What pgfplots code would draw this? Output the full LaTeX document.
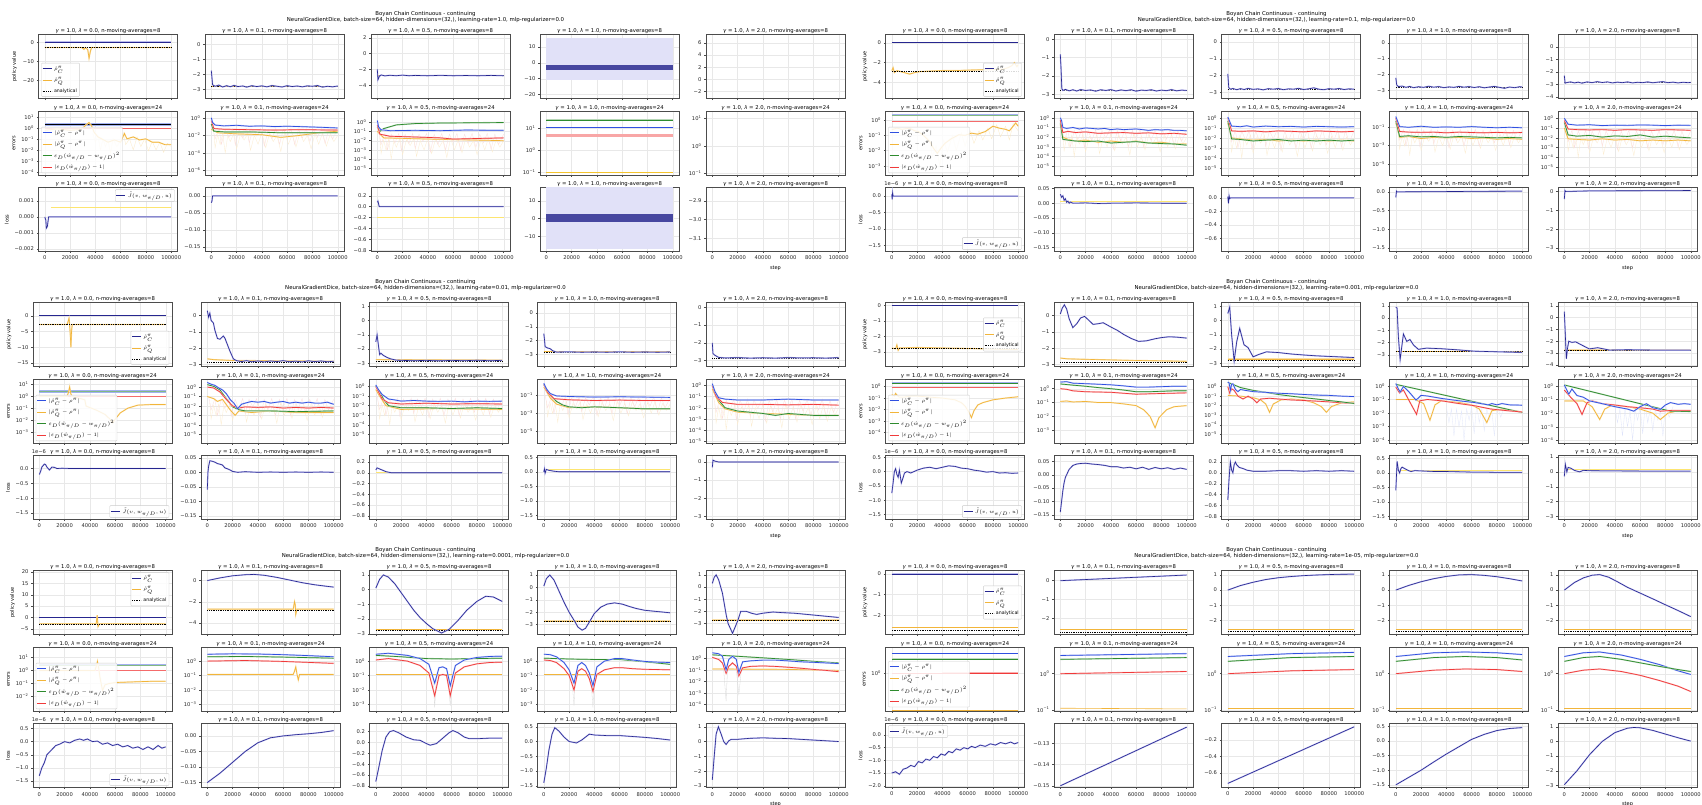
\documentclass[border=0pt]{standalone}
\usepackage{fontspec}
\setmainfont{DejaVu Sans}
\usepackage{pgfplots}
\pgfplotsset{compat=1.18}
\definecolor{cB}{HTML}{5A5AD8}
\definecolor{cN}{HTML}{26268F}
\definecolor{cO}{HTML}{F2B53A}
\definecolor{cE}{HTML}{3050E0}
\definecolor{cG}{HTML}{2E8B2E}
\definecolor{cR}{HTML}{F03A3A}
\newcommand\fs[1]{\fontsize{#1}{#1}\selectfont}
\newcommand\tp[1]{10\textsuperscript{#1}}
\expandafter\def\csname RT1\endcsname{34.5}
\expandafter\def\csname RT2\endcsname{111}
\expandafter\def\csname RT3\endcsname{187.5}
\expandafter\def\csname LM1\endcsname{0.0}
\expandafter\def\csname LM2\endcsname{0.1}
\expandafter\def\csname LM3\endcsname{0.5}
\expandafter\def\csname LM4\endcsname{1.0}
\expandafter\def\csname LM5\endcsname{2.0}
\pgfplotsset{
 pan/.style={scale only axis,width=139pt,height=64pt,anchor=north west,
  xmin=-5,xmax=105,xtick={0,20,40,60,80,100},
  axis line style={draw=black!70,line width=0.45pt},
  grid=major,major grid style={draw=black!9,line width=0.35pt},
  tick align=outside,major tick length=1.6pt,tick style={draw=black!70,line width=0.4pt},
  tick pos=left,scaled ticks=false,clip mode=individual,
  tick label style={font=\fs{5.2},text=black!85},
  xticklabel style={yshift=0.5pt},yticklabel style={xshift=0.5pt},
  every axis title shift=0pt,
  title style={font=\fs{5.3},at={(0.5,1)},anchor=south,yshift=0.2pt,inner sep=0.3pt},
  ylabel style={font=\fs{5},yshift=-1pt},xlabel style={font=\fs{5},yshift=1pt},
  legend style={font=\fs{4.7},draw=black!20,rounded corners=0.8pt,fill=white,fill opacity=0.85,text opacity=1,inner sep=0.8pt,row sep=1.6pt,cells={anchor=west}},
  legend image code/.code={\draw[##1] (0pt,0pt) -- (9pt,0pt);},
 },
 LL/.style={legend style={at={(0.02,0.03)},anchor=south west}},
 LR/.style={legend style={at={(0.98,0.03)},anchor=south east}},
 UR/.style={legend style={at={(0.98,0.97)},anchor=north east}},
 UL/.style={legend style={at={(0.02,0.97)},anchor=north west}},
 ER/.style={legend style={at={(0.98,#1)},anchor=east}},
 EL/.style={legend style={at={(0.02,#1)},anchor=west}},
}
\newcommand\pB[1]{\addplot[forget plot,cB!40,line width=1.4pt] coordinates {#1};\addplot[forget plot,cN,line width=0.6pt] coordinates {#1};}
\newcommand\pO[1]{\addplot[forget plot,cO!45,line width=1.3pt] coordinates {#1};\addplot[forget plot,cO,line width=0.6pt] coordinates {#1};}
\newcommand\pA[1]{\addplot[forget plot,black,densely dotted,line width=0.75pt] coordinates {(0,#1)(100,#1)};}
\newcommand\eL[2]{\addplot[forget plot,#1!30,line width=1.4pt] coordinates {#2};\addplot[forget plot,#1,line width=0.7pt] coordinates {#2};}
\newcommand\eB[1]{\eL{cE}{#1}}
\newcommand\eO[1]{\eL{cO}{#1}}
\newcommand\eG[1]{\eL{cG}{#1}}
\newcommand\eR[1]{\eL{cR}{#1}}
\newcommand\thk[3]{\addplot[forget plot,#1,line width=#2] coordinates {#3};}
\newcommand\nz[2]{\addplot[forget plot,#1,line width=0.3pt] coordinates {#2};}
\newcommand\lY[1]{\addplot[forget plot,yellow!70!orange!55,line width=0.5pt] coordinates {(0,#1)(100,#1)};}
\newcommand\band[2]{\addplot[forget plot,fill=#1,draw=none] coordinates {#2} -- cycle;}
% faint raw-data traces
\def\nzO{(2,0.02)(3,0.0004)(5,0.012)(7,0.0009)(9,0.015)(11,0.0001)(13,0.01)(15,0.002)(18,0.02)(20,0.0003)(23,0.012)(26,0.003)(29,0.018)(31,0.0002)(34,0.01)(37,0.001)(40,0.02)(43,0.0004)(46,0.015)(49,0.002)(52,0.01)(55,0.00015)(58,0.02)(61,0.001)(64,0.012)(67,0.0005)(70,0.018)(73,0.002)(76,0.01)(79,0.0003)(82,0.015)(85,0.001)(88,0.02)(91,0.0006)(94,0.012)(97,0.002)(100,0.01)}
\def\nzR{(1,0.1)(3,0.004)(6,0.06)(8,0.001)(11,0.05)(14,0.006)(17,0.06)(19,0.0008)(22,0.05)(25,0.005)(28,0.06)(30,0.0015)(33,0.05)(36,0.008)(39,0.06)(42,0.0006)(45,0.05)(48,0.004)(51,0.06)(54,0.001)(57,0.05)(60,0.007)(63,0.06)(66,0.0009)(69,0.05)(72,0.005)(75,0.06)(78,0.002)(81,0.05)(84,0.006)(87,0.06)(90,0.0012)(93,0.05)(96,0.004)(100,0.05)}
\def\nzE{(40,0.03)(42,0.002)(44,0.02)(46,0.0002)(48,0.02)(50,0.001)(52,0.015)(54,0.0001)(56,0.02)(58,0.003)(60,0.03)(62,0.0003)(64,0.04)(66,0.002)(68,0.02)(70,0.0005)(72,0.02)(74,0.003)(76,0.015)(78,0.0002)(80,0.04)(83,0.005)(86,0.03)}
\newcommand\legPV{\addlegendimage{cN,line width=0.8pt}\addlegendentry{$\hat\rho^\pi_C$}\addlegendimage{cO,line width=0.8pt}\addlegendentry{$\hat\rho^\pi_Q$}\addlegendimage{black,densely dotted,line width=0.8pt}\addlegendentry{analytical}}
\newcommand\legER{\addlegendimage{cE,line width=0.8pt}\addlegendentry{$|\hat\rho^\pi_C-\rho^\pi|$}\addlegendimage{cO,line width=0.8pt}\addlegendentry{$|\hat\rho^\pi_Q-\rho^\pi|$}\addlegendimage{cG,line width=0.8pt}\addlegendentry{$\varepsilon_D(\hat w_{\pi/D}-w_{\pi/D})^2$}\addlegendimage{cR,line width=0.8pt}\addlegendentry{$|\varepsilon_D(\hat w_{\pi/D})-1|$}}
\newcommand\legLS{\addlegendimage{cN,line width=0.8pt}\addlegendentry{$\tilde J(v,w_{\pi/D},u)$}}
\newcommand\esix{\node[font=\fs{5.2},anchor=south west,inner sep=0pt,text=black!85] at (rel axis cs:-0.01,1.025) {1e−6};}
\newcommand\setcols[5]{\expandafter\def\csname CL1\endcsname{#1}\expandafter\def\csname CL2\endcsname{#2}\expandafter\def\csname CL3\endcsname{#3}\expandafter\def\csname CL4\endcsname{#4}\expandafter\def\csname CL5\endcsname{#5}}
\newcommand\fig[3]{\def\FX{#1}\def\FY{#2}\node[font=\fontsize{5.4}{5.8}\selectfont,align=center,inner sep=0pt] at ({(\FX+425.5)*1pt},{-(\FY+17.3)*1pt}) {Boyan Chain Continuous - continuing\\NeuralGradientDice, batch-size=64, hidden-dimensions=(32,), learning-rate=#3, mlp-regularizer=0.0};}
\newcommand\pan[4]{%
 \pgfmathsetmacro\xl{\FX+\csname CL#1\endcsname}%
 \pgfmathsetmacro\yt{\FY+\csname RT#2\endcsname}%
 \ifnum#2=3 \def\xtl{0,20000,40000,60000,80000,100000}\else\def\xtl{}\fi
 \begin{axis}[pan,at={(\xl pt,-\yt pt)},xticklabels/.expand once=\xtl,
  title={\textit{γ} = 1.0, \textit{λ} = \csname LM#1\endcsname, n-moving-averages=\ifnum#2=2 24\else 8\fi},#3]
 #4
 \end{axis}}
\begin{document}
\begin{tikzpicture}
\path[use as bounding box,fill=white] (0,0) rectangle (1702pt,-805pt);
%%%%%%%%%%%%%%%%%%%% FIG 1
\fig{0}{0}{1.0}\setcols{38.5}{205}{371}{540}{706}
\pan{1}{1}{ymin=-29.6,ymax=4,ytick={0,-10,-20},yticklabels={0,−10,−20},ylabel={policy value},LL}{\legPV\pB{(0,0)(100,0)}\pO{(0,-2.8)(29,-2.8)(31,-3.8)(32,-2.8)(34,-4)(35,-8.5)(36,-5)(37,-2.8)(100,-2.8)}\pA{-2.85}}
\pan{2}{1}{ymin=-3.62,ymax=0.67,ytick={0,-1,-2,-3},yticklabels={0,−1,−2,−3}}{\pO{(0,-2.8)(100,-2.8)}\pA{-2.8}\pB{(0,-1.75)(1,-2.7)(3,-2.8)(6,-2.72)(9,-2.85)(12,-2.76)(15,-2.83)(18,-2.74)(21,-2.82)(25,-2.78)(28,-2.86)(32,-2.76)(36,-2.82)(40,-2.77)(44,-2.84)(48,-2.75)(52,-2.8)(56,-2.85)(60,-2.76)(64,-2.82)(68,-2.78)(72,-2.84)(76,-2.77)(80,-2.8)(84,-2.75)(88,-2.86)(92,-2.8)(96,-2.84)(100,-2.78)}}
\pan{3}{1}{ymin=-5.68,ymax=2.42,ytick={2,0,-2,-4},yticklabels={2,0,−2,−4}}{\pO{(0,-2.75)(100,-2.75)}\pA{-2.8}\pB{(0,-2.0)(0.5,-3.3)(1.5,-2.9)(3,-2.7)(6,-2.82)(10,-2.74)(15,-2.8)(20,-2.72)(25,-2.8)(30,-2.76)(40,-2.8)(50,-2.75)(60,-2.8)(70,-2.77)(80,-2.8)(90,-2.76)(100,-2.8)}}
\pan{4}{1}{ymin=-22.5,ymax=17.9,ytick={10,0,-10,-20},yticklabels={10,0,−10,−20}}{\band{cB!18}{(0,-11)(100,-11)(100,16)(0,16)}\band{cN!85}{(0,-1.5)(100,-1.5)(100,-4.5)(0,-4.5)}}
\pan{5}{1}{ymin=-3.2,ymax=7.4,ytick={6,4,2,0,-2},yticklabels={6,4,2,0,−2}}{}
\pan{1}{2}{ymode=log,ymin=5.4e-5,ymax=33,ytick={10,1,0.1,0.01,0.001,0.0001},yticklabels={\tp{1},\tp{0},\tp{−1},\tp{−2},\tp{−3},\tp{−4}},ylabel={errors},LL}{\legER\nz{cO!30}{(38,0.3)(40,0.05)(42,0.2)(44,0.01)(46,0.1)(48,0.02)(50,0.08)(52,0.005)(54,0.1)(57,0.02)(60,0.07)(62,0.4)(64,0.03)(67,0.1)(70,0.01)(73,0.15)(76,0.02)(79,0.1)(82,0.008)(85,0.06)(88,0.01)(91,0.05)(94,0.006)(97,0.04)(100,0.02)}\thk{cE!45}{2.2pt}{(0,2)(100,2)}\thk{black}{0.6pt}{(0,2)(100,2)}\thk{cR!80}{1pt}{(0,0.8)(100,0.8)}\eO{(0,0.6)(10,0.8)(20,0.6)(28,0.7)(31,1.2)(33,2)(35,3)(37,1.5)(39,0.4)(42,0.15)(45,0.1)(50,0.05)(55,0.08)(60,0.05)(63,0.3)(65,0.1)(70,0.15)(75,0.08)(80,0.1)(85,0.05)(90,0.05)(95,0.03)(100,0.03)}}
\pan{2}{2}{ymode=log,ymin=3.2e-7,ymax=5.9,ytick={1,0.01,0.0001,0.000001},yticklabels={\tp{0},\tp{−2},\tp{−4},\tp{−6}}}{\nz{cO!25}{\nzO}\nz{cR!18}{\nzR}\eO{(0,0.05)(5,0.02)(20,0.015)(40,0.012)(55,0.006)(70,0.01)(85,0.02)(100,0.03)}\eG{(0,0.2)(2,0.03)(10,0.025)(30,0.025)(55,0.02)(75,0.02)(100,0.02)}\eR{(0,0.5)(2,0.06)(10,0.05)(30,0.045)(50,0.04)(70,0.045)(100,0.04)}\eB{(0,1)(1,0.3)(3,0.15)(10,0.12)(20,0.14)(30,0.11)(40,0.12)(50,0.1)(60,0.11)(70,0.1)(80,0.09)(90,0.08)(100,0.07)}}
\pan{3}{2}{ymode=log,ymin=2e-6,ymax=15.8,ytick={1,0.1,0.01,0.001,0.0001,0.00001},yticklabels={\tp{0},\tp{−1},\tp{−2},\tp{−3},\tp{−4},\tp{−5}}}{\nz{cO!25}{\nzO}\nz{cR!18}{\nzR}\eO{(0,0.1)(5,0.02)(40,0.015)(100,0.01)}\eG{(0,0.3)(2,0.1)(5,0.2)(15,0.5)(30,0.7)(50,0.8)(100,0.9)}\eR{(0,0.5)(2,0.05)(10,0.03)(30,0.025)(50,0.02)(60,0.015)(100,0.02)}\eB{(0,1.5)(1,0.3)(3,0.15)(10,0.12)(30,0.13)(50,0.12)(70,0.14)(100,0.13)}}
\pan{4}{2}{ymode=log,ymin=0.076,ymax=57.5,ytick={10,1,0.1},yticklabels={\tp{1},\tp{0},\tp{−1}}}{\thk{cG!35}{2.4pt}{(0,22)(100,22)}\thk{cG}{0.7pt}{(0,22)(100,22)}\thk{cE}{0.8pt}{(0,11)(100,11)}\thk{cR!45}{2.2pt}{(0,4.5)(100,4.5)}\thk{cO!80!yellow}{0.6pt}{(0,0.1)(100,0.1)}}
\pan{5}{2}{ymode=log,ymin=0.089,ymax=18.6,ytick={10,1,0.1},yticklabels={\tp{1},\tp{0},\tp{−1}}}{}
\pan{1}{3}{ymin=-0.00215,ymax=0.00183,ytick={0.001,0,-0.001,-0.002},yticklabels={0.001,0.000,−0.001,−0.002},ylabel={loss},UR}{\legLS\thk{yellow!70!orange!55}{0.5pt}{(5,0.0006)(100,0.0006)}\pB{(0,0)(0.8,-0.0002)(1.2,-0.0007)(2,-0.0006)(2.5,-0.0003)(3,0)(100,0)}}
\pan{2}{3}{ymin=-0.163,ymax=0.0247,ytick={0,-0.05,-0.1,-0.15},yticklabels={0.00,−0.05,−0.10,−0.15}}{\pB{(0,-0.02)(0.5,-0.015)(1,0)(100,0)}}
\pan{3}{3}{ymin=-0.82,ymax=0.35,ytick={0.2,0,-0.2,-0.4,-0.6,-0.8},yticklabels={0.2,0.0,−0.2,−0.4,−0.6,−0.8}}{\lY{-0.2}\pB{(0,0.08)(0.5,0.1)(1.5,0)(100,0)}}
\pan{4}{3}{ymin=-18.7,ymax=17.7,ytick={10,0,-10},yticklabels={10,0,−10}}{\band{cB!18}{(0,-17.4)(100,-17.4)(100,17.7)(0,17.7)}\band{cN!85}{(0,2.9)(100,2.9)(100,-1.9)(0,-1.9)}}
\pan{5}{3}{ymin=-3.17,ymax=-2.829,ytick={-2.9,-3,-3.1},yticklabels={−2.9,−3.0,−3.1},xlabel={step}}{}
%%%%%%%%%%%%%%%%%%%% FIG 2
\fig{851}{0}{0.1}\setcols{34.5}{203}{370.5}{538.5}{707}
\pan{1}{1}{ymin=-5.6,ymax=0.83,ytick={0,-2,-4},yticklabels={0,−2,−4},ylabel={policy value},LR}{\legPV\pB{(0,0)(100,0)}\pO{(0,-2.8)(1,-2.5)(2,-3.0)(4,-2.8)(7,-2.9)(10,-3.0)(14,-3.15)(18,-3.0)(22,-2.9)(30,-2.85)(40,-2.8)(50,-2.8)(60,-2.75)(70,-2.72)(80,-2.7)(88,-2.65)(92,-2.5)(95,-2.3)(97,-2.0)(99,-2.4)(100,-2.2)}\pA{-2.85}}
\pan{2}{1}{ymin=-3.24,ymax=0.27,ytick={0,-1,-2,-3},yticklabels={0,−1,−2,−3}}{\pA{-2.8}\pB{(0,-0.82)(0.5,-1.5)(1.2,-2.7)(2,-2.8)(4,-2.74)(7,-2.82)(10,-2.76)(13,-2.83)(16,-2.75)(20,-2.8)(24,-2.77)(28,-2.84)(32,-2.76)(36,-2.8)(40,-2.75)(44,-2.83)(48,-2.77)(52,-2.81)(56,-2.76)(60,-2.84)(64,-2.78)(68,-2.8)(72,-2.76)(76,-2.83)(80,-2.78)(84,-2.81)(88,-2.75)(92,-2.82)(96,-2.78)(100,-2.8)}}
\pan{3}{1}{ymin=-3.35,ymax=0.43,ytick={0,-1,-2,-3},yticklabels={0,−1,−2,−3}}{\pA{-2.8}\pB{(0,-1.9)(0.7,-2.7)(2,-2.8)(4,-2.76)(7,-2.83)(10,-2.77)(13,-2.82)(16,-2.75)(20,-2.81)(24,-2.78)(28,-2.84)(32,-2.77)(36,-2.8)(40,-2.76)(44,-2.83)(48,-2.78)(52,-2.8)(56,-2.75)(60,-2.82)(64,-2.78)(68,-2.72)(72,-2.8)(76,-2.83)(80,-2.77)(84,-2.8)(88,-2.76)(92,-2.82)(96,-2.78)(100,-2.8)}}
\pan{4}{1}{ymin=-3.5,ymax=0.52,ytick={0,-1,-2,-3},yticklabels={0,−1,−2,−3}}{\pA{-2.8}\pB{(0,-2.2)(0.7,-2.65)(2,-2.75)(5,-2.72)(8,-2.8)(11,-2.74)(14,-2.82)(18,-2.76)(22,-2.8)(26,-2.73)(30,-2.79)(34,-2.75)(38,-2.82)(42,-2.77)(46,-2.8)(50,-2.74)(54,-2.79)(58,-2.75)(62,-2.81)(66,-2.76)(70,-2.83)(74,-2.78)(78,-2.74)(82,-2.8)(86,-2.86)(90,-2.78)(94,-2.82)(98,-2.76)(100,-2.78)}}
\pan{5}{1}{ymin=-4.13,ymax=1.0,ytick={0,-1,-2,-3,-4},yticklabels={0,−1,−2,−3,−4}}{\pA{-2.85}\pB{(0,-2.3)(0.6,-2.9)(2,-2.85)(5,-2.8)(8,-2.88)(11,-2.82)(14,-2.9)(18,-2.8)(22,-2.86)(26,-2.78)(30,-2.85)(34,-2.8)(38,-2.88)(42,-2.82)(46,-2.86)(50,-2.8)(54,-2.88)(58,-2.83)(62,-2.86)(66,-2.8)(70,-2.87)(74,-2.82)(78,-2.78)(82,-2.86)(86,-2.82)(90,-2.88)(94,-2.83)(98,-2.86)(100,-2.84)}}
\pan{1}{2}{ymode=log,ymin=2.5e-4,ymax=4,ytick={1,0.1,0.01,0.001},yticklabels={\tp{0},\tp{−1},\tp{−2},\tp{−3}},ylabel={errors},LL}{\legER\nz{cO!30}{(30,0.05)(32,0.004)(35,0.02)(38,0.001)(41,0.05)(44,0.008)(48,0.1)(51,0.01)(55,0.15)(58,0.02)(62,0.2)(65,0.03)(69,0.2)(72,0.05)(76,0.3)(79,0.06)(83,0.5)(86,0.08)(90,0.4)(93,0.05)(96,0.6)(100,0.2)}\thk{cE!45}{2.2pt}{(0,2.1)(100,2.1)}\thk{cG!60}{1pt}{(0,1.95)(100,1.95)}\thk{cR!75}{1pt}{(0,0.8)(100,0.8)}\eO{(0,0.24)(4,0.3)(8,0.25)(14,0.3)(18,0.2)(21,0.18)(25,0.1)(30,0.04)(33,0.014)(36,0.0066)(39,0.015)(42,0.03)(47,0.06)(53,0.11)(58,0.1)(63,0.14)(68,0.12)(74,0.18)(80,0.4)(85,0.3)(90,0.25)(93,0.2)(96,0.4)(98,0.66)(100,0.4)}}
\pan{2}{2}{ymode=log,ymin=1.26e-6,ymax=5,ytick={1,0.1,0.01,0.001,0.0001,0.00001},yticklabels={\tp{0},\tp{−1},\tp{−2},\tp{−3},\tp{−4},\tp{−5}}}{\nz{cO!25}{\nzO}\nz{cR!18}{\nzR}\eO{(0,0.2)(2,0.01)(6,0.006)(12,0.004)(20,0.005)(30,0.003)(40,0.004)(50,0.003)(60,0.004)(70,0.0025)(80,0.003)(90,0.002)(100,0.002)}\eG{(0,0.3)(2,0.006)(6,0.005)(12,0.004)(20,0.0035)(30,0.004)(40,0.0025)(50,0.003)(60,0.0035)(70,0.0025)(80,0.0022)(90,0.002)(100,0.0015)}\eR{(0,0.6)(2,0.03)(6,0.04)(12,0.03)(20,0.035)(30,0.025)(40,0.028)(50,0.03)(60,0.025)(70,0.028)(80,0.022)(90,0.025)(100,0.02)}\eB{(0,1)(1,0.5)(2,0.1)(5,0.08)(10,0.1)(15,0.07)(20,0.09)(25,0.08)(30,0.07)(35,0.08)(40,0.06)(45,0.07)(50,0.06)(55,0.065)(60,0.07)(65,0.06)(70,0.05)(75,0.06)(80,0.055)(85,0.06)(90,0.05)(95,0.05)(100,0.045)}}
\pan{3}{2}{ymode=log,ymin=2.1e-6,ymax=4.7,ytick={1,0.1,0.01,0.001,0.0001,0.00001},yticklabels={\tp{0},\tp{−1},\tp{−2},\tp{−3},\tp{−4},\tp{−5}}}{\nz{cO!25}{\nzO}\nz{cR!18}{\nzR}\eO{(0,0.3)(3,0.01)(10,0.008)(20,0.006)(30,0.007)(40,0.005)(50,0.006)(60,0.005)(70,0.006)(80,0.005)(90,0.006)(100,0.005)}\eG{(0,0.5)(3,0.008)(10,0.007)(20,0.005)(30,0.006)(40,0.007)(50,0.005)(60,0.006)(70,0.005)(80,0.006)(90,0.005)(100,0.006)}\eR{(0,1)(3,0.05)(10,0.045)(20,0.05)(30,0.04)(40,0.05)(50,0.045)(60,0.04)(70,0.05)(80,0.045)(90,0.04)(100,0.045)}\eB{(0,1.2)(3,0.15)(10,0.13)(15,0.16)(20,0.12)(30,0.15)(40,0.13)(50,0.14)(60,0.12)(70,0.14)(80,0.13)(90,0.12)(100,0.13)}}
\pan{4}{2}{ymode=log,ymin=6.3e-7,ymax=6,ytick={0.1,0.001,0.00001},yticklabels={\tp{−1},\tp{−3},\tp{−5}}}{\nz{cO!25}{\nzO}\nz{cR!18}{\nzR}\eO{(0,0.3)(3,0.008)(10,0.01)(20,0.006)(30,0.008)(40,0.007)(50,0.008)(60,0.006)(70,0.007)(80,0.005)(90,0.006)(100,0.005)}\eG{(0,0.5)(3,0.01)(10,0.012)(20,0.009)(30,0.01)(40,0.008)(50,0.01)(60,0.009)(70,0.008)(80,0.007)(90,0.008)(100,0.007)}\eR{(0,1)(3,0.035)(10,0.03)(20,0.028)(30,0.03)(40,0.025)(50,0.03)(60,0.027)(70,0.025)(80,0.028)(90,0.025)(100,0.027)}\eB{(0,1.5)(3,0.12)(10,0.1)(20,0.13)(30,0.1)(40,0.11)(50,0.1)(60,0.12)(70,0.1)(80,0.09)(90,0.1)(100,0.09)}}
\pan{5}{2}{ymode=log,ymin=1.6e-6,ymax=5.6,ytick={1,0.1,0.01,0.001,0.0001,0.00001},yticklabels={\tp{0},\tp{−1},\tp{−2},\tp{−3},\tp{−4},\tp{−5}}}{\nz{cO!25}{\nzO}\nz{cR!18}{\nzR}\eO{(0,0.1)(3,0.008)(10,0.007)(20,0.006)(30,0.008)(40,0.006)(50,0.007)(60,0.005)(70,0.006)(80,0.005)(90,0.006)(100,0.005)}\eG{(0,0.4)(3,0.02)(10,0.015)(20,0.018)(30,0.012)(40,0.016)(50,0.014)(60,0.02)(70,0.012)(80,0.015)(90,0.012)(100,0.01)}\eR{(0,0.6)(3,0.08)(10,0.07)(20,0.065)(30,0.07)(40,0.06)(50,0.07)(60,0.065)(70,0.06)(80,0.07)(90,0.065)(100,0.06)}\eB{(0,1)(3,0.25)(10,0.2)(20,0.22)(30,0.18)(40,0.2)(50,0.19)(60,0.21)(70,0.2)(80,0.18)(90,0.2)(100,0.19)}}
\pan{1}{3}{ymin=-1.68,ymax=0.26,ytick={0,-0.5,-1,-1.5},yticklabels={0.0,−0.5,−1.0,−1.5},ylabel={loss},LR}{\legLS\esix\pB{(0,0.05)(0.3,-0.1)(0.6,0.1)(1,0)(100,0)}}
\pan{2}{3}{ymin=-0.163,ymax=0.053,ytick={0.05,0,-0.05,-0.1,-0.15},yticklabels={0.05,0.00,−0.05,−0.10,−0.15}}{\lY{0.008}\pB{(0,0.03)(1,0.02)(2,0.025)(3,0.01)(4,0.015)(5,0.003)(6,0.007)(7,0.0)(8,0.004)(10,0.0)(20,0.001)(30,-0.001)(40,0.0)(60,0.001)(80,0.0)(100,0.0)}}
\pan{3}{3}{ymin=-0.79,ymax=0.154,ytick={0,-0.2,-0.4,-0.6},yticklabels={0.0,−0.2,−0.4,−0.6}}{\pB{(0,0.02)(0.5,-0.08)(1,0.03)(1.5,-0.01)(2,0)(100,0)}}
\pan{4}{3}{ymin=-1.59,ymax=0.116,ytick={0,-0.5,-1,-1.5},yticklabels={0.0,−0.5,−1.0,−1.5}}{\pB{(0,-0.15)(0.5,0.02)(1,0)(50,0.01)(100,0.02)}}
\pan{5}{3}{ymin=-3.18,ymax=0.21,ytick={0,-1,-2,-3},yticklabels={0,−1,−2,−3},xlabel={step}}{\pB{(0,-0.4)(0.5,0.05)(1,0.0)(20,0.03)(60,0.04)(100,0.05)}}
%%%%%%%%%%%%%%%%%%%% FIG 3
\fig{0}{268}{0.01}\setcols{33}{201}{369.5}{537.5}{706}
\pan{1}{1}{ymin=-16.1,ymax=4.2,ytick={0,-5,-10,-15},yticklabels={0,−5,−10,−15},ylabel={policy value},LR}{\legPV\pB{(0,0)(100,0)}\pO{(0,-2.8)(22,-2.8)(23,-1.5)(23.5,-0.8)(24,-2.8)(24.5,-6)(25,-10)(25.5,-5)(26,-2.8)(100,-2.8)}\pA{-2.85}}
\pan{2}{1}{ymin=-3.12,ymax=0.8,ytick={0,-1,-2,-3},yticklabels={0,−1,−2,−3}}{\pO{(0,-2.65)(5,-2.7)(20,-2.75)(100,-2.8)}\pA{-2.85}\pB{(0,0.3)(1,-0.1)(2,0.15)(3,-0.3)(4.8,-0.45)(6,-0.9)(8,-1.4)(10,-1.45)(12.7,-1.25)(14,-1.4)(16,-1.8)(18,-2.2)(20.6,-2.65)(23,-2.76)(27,-2.82)(31,-2.76)(35,-2.83)(40,-2.78)(45,-2.84)(50,-2.78)(55,-2.82)(60,-2.76)(65,-2.83)(70,-2.79)(75,-2.84)(80,-2.77)(85,-2.82)(90,-2.78)(95,-2.83)(100,-2.8)}}
\pan{3}{1}{ymin=-3.23,ymax=1.27,ytick={1,0,-1,-2,-3},yticklabels={1,0,−1,−2,−3}}{\pO{(0,-2.75)(100,-2.78)}\pA{-2.85}\pB{(0,-1.5)(1,-1.0)(2,-1.7)(3,-2.4)(4,-2.3)(6,-2.45)(9,-2.6)(12,-2.7)(16,-2.78)(20,-2.8)(30,-2.82)(40,-2.8)(50,-2.83)(60,-2.8)(70,-2.82)(80,-2.79)(90,-2.82)(100,-2.8)}}
\pan{4}{1}{ymin=-3.9,ymax=0.77,ytick={0,-1,-2,-3},yticklabels={0,−1,−2,−3}}{\pO{(0,-2.8)(100,-2.8)}\pA{-2.85}\pB{(0,-1.5)(0.5,-1.9)(1,-2.45)(3,-2.55)(5,-2.6)(7,-2.75)(10,-2.85)(20,-2.83)(30,-2.86)(40,-2.84)(50,-2.86)(60,-2.83)(70,-2.86)(80,-2.84)(90,-2.86)(100,-2.84)}}
\pan{5}{1}{ymin=-3.33,ymax=0.26,ytick={0,-1,-2,-3},yticklabels={0,−1,−2,−3}}{\pA{-2.85}\pB{(0,-2.0)(0.5,-2.6)(2,-2.7)(5,-2.82)(10,-2.85)(20,-2.83)(30,-2.86)(40,-2.84)(50,-2.86)(60,-2.83)(70,-2.85)(80,-2.84)(90,-2.86)(100,-2.83)}}
\pan{1}{2}{ymode=log,ymin=1.26e-4,ymax=27,ytick={10,1,0.1,0.01,0.001},yticklabels={\tp{1},\tp{0},\tp{−1},\tp{−2},\tp{−3}},ylabel={errors},LL}{\legER\thk{cE!45}{2.2pt}{(0,2.5)(100,2.5)}\thk{cG!60}{1pt}{(0,2.35)(100,2.35)}\thk{cR!75}{1pt}{(0,1)(100,1)}\eO{(0,1)(22,1)(23,2)(24,6)(25,1.5)(26,1)(36,0.5)(37,0.15)(45,0.07)(52,0.03)(56,0.012)(58,0.006)(60,0.012)(64,0.04)(70,0.1)(78,0.18)(88,0.2)(100,0.2)}}
\pan{2}{2}{ymode=log,ymin=1.2e-6,ymax=7.1,ytick={1,0.1,0.01,0.001,0.0001,0.00001},yticklabels={\tp{0},\tp{−1},\tp{−2},\tp{−3},\tp{−4},\tp{−5}}}{\nz{cO!25}{\nzO}\nz{cR!18}{\nzR}\eO{(0,0.1)(5,0.06)(8,0.03)(12,0.05)(18,0.004)(22,0.001)(25,0.003)(35,0.002)(50,0.003)(70,0.002)(100,0.002)}\eG{(0,1.8)(5,1.2)(10,0.5)(15,0.06)(20,0.008)(25,0.004)(30,0.003)(50,0.003)(70,0.0025)(100,0.003)}\eR{(0,1)(5,0.8)(10,0.3)(15,0.05)(20,0.01)(25,0.006)(30,0.008)(40,0.007)(50,0.008)(60,0.006)(70,0.007)(80,0.006)(90,0.007)(100,0.006)}\eB{(0,3)(3,2)(6,1.5)(9,0.8)(12,0.5)(15,0.2)(18,0.05)(21,0.02)(24,0.005)(27,0.015)(30,0.02)(35,0.03)(40,0.025)(45,0.03)(50,0.02)(55,0.025)(60,0.03)(65,0.02)(70,0.025)(75,0.02)(80,0.025)(85,0.02)(90,0.02)(95,0.025)(100,0.015)}}
\pan{3}{2}{ymode=log,ymin=1.2e-6,ymax=6.3,ytick={1,0.1,0.01,0.001,0.0001,0.00001},yticklabels={\tp{0},\tp{−1},\tp{−2},\tp{−3},\tp{−4},\tp{−5}}}{\nz{cO!25}{\nzO}\nz{cR!18}{\nzR}\eO{(0,0.5)(3,0.1)(8,0.01)(20,0.004)(50,0.005)(100,0.004)}\eG{(0,1.2)(3,0.3)(6,0.05)(10,0.01)(20,0.006)(40,0.006)(60,0.005)(80,0.006)(100,0.005)}\eR{(0,1)(2,0.3)(5,0.05)(10,0.02)(20,0.015)(40,0.018)(60,0.015)(80,0.016)(100,0.015)}\eB{(0,1.5)(2,0.5)(5,0.15)(10,0.05)(15,0.04)(20,0.03)(30,0.035)(40,0.03)(50,0.028)(60,0.03)(70,0.025)(80,0.03)(90,0.028)(100,0.03)}}
\pan{4}{2}{ymode=log,ymin=5e-7,ymax=6,ytick={0.1,0.001,0.00001},yticklabels={\tp{−1},\tp{−3},\tp{−5}}}{\nz{cO!25}{\nzO}\nz{cR!18}{\nzR}\eO{(0,0.8)(5,0.05)(10,0.01)(20,0.004)(40,0.005)(60,0.004)(80,0.003)(100,0.003)}\eG{(0,1.5)(5,0.1)(10,0.02)(15,0.008)(20,0.005)(30,0.004)(40,0.005)(60,0.004)(80,0.003)(100,0.003)}\eR{(0,1.5)(3,0.2)(8,0.04)(20,0.03)(40,0.025)(60,0.028)(80,0.025)(100,0.025)}\eB{(0,2)(2,0.5)(5,0.15)(10,0.08)(20,0.07)(40,0.06)(60,0.065)(80,0.06)(100,0.055)}}
\pan{5}{2}{ymode=log,ymin=6.3e-6,ymax=4,ytick={1,0.1,0.01,0.001,0.0001,0.00001},yticklabels={\tp{0},\tp{−1},\tp{−2},\tp{−3},\tp{−4},\tp{−5}}}{\nz{cO!25}{\nzO}\nz{cR!18}{\nzR}\eO{(0,0.5)(5,0.03)(10,0.008)(20,0.004)(40,0.003)(60,0.0025)(80,0.002)(100,0.002)}\eG{(0,1)(5,0.05)(10,0.01)(20,0.005)(40,0.003)(50,0.002)(60,0.003)(80,0.002)(100,0.002)}\eR{(0,1)(3,0.1)(8,0.03)(20,0.02)(40,0.02)(60,0.018)(80,0.02)(100,0.017)}\eB{(0,1.5)(2,0.3)(5,0.08)(10,0.06)(20,0.05)(40,0.05)(60,0.06)(80,0.05)(100,0.05)}}
\pan{1}{3}{ymin=-1.72,ymax=0.44,ytick={0,-0.5,-1,-1.5},yticklabels={0.0,−0.5,−1.0,−1.5},ylabel={loss},LR}{\legLS\esix\pB{(0,-0.2)(1,-0.1)(2,0.05)(3,0.1)(4,0.15)(5,0.13)(6,0.05)(7,0.0)(8,-0.05)(9,0.0)(10,0.05)(12,0.04)(14,0.0)(18,0.01)(25,0.0)(100,0.0)}}
\pan{2}{3}{ymin=-0.163,ymax=0.058,ytick={0.05,0,-0.05,-0.1,-0.15},yticklabels={0.05,0.00,−0.05,−0.10,−0.15}}{\pB{(0,-0.06)(0.5,0.0)(1,0.02)(2,0.04)(4,0.038)(6,0.035)(8,0.03)(10,0.028)(12,0.025)(14,0.015)(16,0.012)(18,0.008)(20,0.003)(24,0.0)(30,0.002)(40,0.0)(50,0.001)(60,0.0)(70,0.001)(80,0)(90,0.001)(100,0)}}
\pan{3}{3}{ymin=-0.87,ymax=0.32,ytick={0.2,0,-0.2,-0.4,-0.6,-0.8},yticklabels={0.2,0.0,−0.2,−0.4,−0.6,−0.8}}{\lY{0.0}\pB{(0,0.05)(1,0.09)(3,0.07)(5,0.05)(8,0.02)(12,0.0)(100,0.0)}}
\pan{4}{3}{ymin=-1.63,ymax=0.556,ytick={0.5,0,-0.5,-1,-1.5},yticklabels={0.5,0.0,−0.5,−1.0,−1.5}}{\lY{0.07}\pB{(0,0.0)(0.5,0.1)(1,-0.05)(2,0.08)(4,0.05)(8,0.02)(12,0.0)(100,0.0)}}
\pan{5}{3}{ymin=-3.18,ymax=0.36,ytick={0,-1,-2,-3},yticklabels={0,−1,−2,−3},xlabel={step}}{\pB{(0,-0.3)(0.5,0.1)(2,0.05)(5,0.0)(100,0.0)}}
%%%%%%%%%%%%%%%%%%%% FIG 4
\fig{851}{268}{0.001}\setcols{34.5}{203}{370.5}{538.5}{707}
\pan{1}{1}{ymin=-3.95,ymax=0.2,ytick={0,-1,-2,-3},yticklabels={0,−1,−2,−3},ylabel={policy value},ER=0.5}{\legPV\pB{(0,0)(100,0)}\pO{(0,-2.75)(3,-2.8)(4,-2.55)(5,-2.9)(6,-2.75)(20,-2.72)(40,-2.75)(60,-2.78)(80,-2.82)(100,-2.85)}\pA{-2.8}}
\pan{2}{1}{ymin=-3.12,ymax=0.8,ytick={0,-1,-2,-3},yticklabels={0,−1,−2,−3}}{\pO{(0,-2.6)(5,-2.65)(30,-2.7)(60,-2.75)(100,-2.8)}\pA{-2.85}\pB{(0,0.1)(1.5,0.45)(3.2,0.66)(5,0.4)(7,-0.2)(9.9,-0.74)(13,-0.5)(16,-0.15)(19.2,-0.05)(22,-0.25)(25.9,-0.54)(30,-0.5)(33.9,-0.44)(40,-0.7)(45,-0.9)(50,-1.15)(56,-1.4)(61.9,-1.58)(68,-1.55)(75,-1.42)(80,-1.35)(85.9,-1.3)(92,-1.32)(100,-1.38)}}
\pan{3}{1}{ymin=-3.23,ymax=1.27,ytick={1,0,-1,-2,-3},yticklabels={1,0,−1,−2,−3}}{\pO{(0,-2.7)(100,-2.7)}\pA{-2.8}\pB{(0,0.5)(1.5,0.95)(3,-1.0)(5,-2.85)(7,-1.5)(9.4,-0.55)(11,-1.1)(12.8,-1.7)(16,-1.9)(20,-2.55)(24,-2.4)(30.5,-2.2)(40,-2.25)(50,-2.35)(60,-2.42)(70,-2.48)(80,-2.52)(90,-2.56)(100,-2.6)}}
\pan{4}{1}{ymin=-3.95,ymax=1.27,ytick={1,0,-1,-2,-3},yticklabels={1,0,−1,−2,−3}}{\pO{(0,-2.7)(100,-2.7)}\pA{-2.75}\pB{(0,0.9)(1,0.8)(2,-1.5)(3.4,-3.4)(4.5,-2.5)(6,-1.3)(8.6,-1.9)(11.2,-1.75)(14,-2.2)(17.8,-2.55)(24.3,-2.45)(36,-2.5)(50,-2.6)(62,-2.7)(80,-2.75)(100,-2.8)}}
\pan{5}{1}{ymin=-4.14,ymax=1.28,ytick={1,0,-1,-2,-3,-4},yticklabels={1,0,−1,−2,−3,−4}}{\pO{(0,-2.75)(100,-2.75)}\pA{-2.78}\pB{(0,0.5)(0.8,-1.5)(1.6,-3.5)(2.5,-2.6)(3.5,-2.0)(6,-2.1)(8.9,-2.05)(14.3,-2.35)(19.7,-2.65)(26.4,-2.55)(35.8,-2.75)(50,-2.72)(70,-2.75)(100,-2.75)}}
\pan{1}{2}{ymode=log,ymin=1.26e-5,ymax=4.5,ytick={1,0.1,0.01,0.001,0.0001},yticklabels={\tp{0},\tp{−1},\tp{−2},\tp{−3},\tp{−4}},ylabel={errors},LL}{\legER\thk{cE!45}{2pt}{(0,2.2)(100,2.2)}\thk{cG}{0.8pt}{(0,1.8)(100,1.8)}\thk{cR!80}{0.9pt}{(0,0.9)(100,0.9)}\eO{(0,0.2)(2,0.15)(3,0.25)(4,0.18)(6,0.12)(10,0.12)(15,0.15)(20,0.15)(30,0.12)(40,0.1)(50,0.07)(55,0.04)(58,0.02)(61,0.006)(63,0.002)(65,0.008)(68,0.025)(72,0.04)(80,0.07)(90,0.1)(100,0.13)}}
\pan{2}{2}{ymode=log,ymin=1.2e-4,ymax=5,ytick={1,0.1,0.01,0.001},yticklabels={\tp{0},\tp{−1},\tp{−2},\tp{−3}}}{\eO{(0,0.12)(5,0.13)(10,0.11)(20,0.12)(30,0.1)(40,0.1)(50,0.08)(60,0.06)(66,0.03)(71,0.01)(75,0.0015)(78,0.008)(84,0.03)(90,0.05)(100,0.06)}\eR{(0,1)(5,0.9)(10,0.7)(20,0.6)(40,0.55)(60,0.4)(80,0.45)(100,0.5)}\eG{(0,2.2)(10,1.8)(20,1.5)(30,1.2)(40,1.0)(50,0.8)(60,0.6)(70,0.6)(80,0.65)(90,0.7)(100,0.7)}\eB{(0,3)(5,3.2)(10,2.5)(20,2.3)(30,2.1)(40,1.9)(50,1.6)(60,1.3)(70,1.3)(80,1.4)(90,1.5)(100,1.5)}}
\pan{3}{2}{ymode=log,ymin=1.2e-6,ymax=6.3,ytick={1,0.1,0.01,0.001,0.0001,0.00001},yticklabels={\tp{0},\tp{−1},\tp{−2},\tp{−3},\tp{−4},\tp{−5}}}{\eO{(0,0.12)(10,0.1)(20,0.07)(26,0.04)(30,0.015)(33,0.002)(36,0.015)(42,0.04)(50,0.05)(60,0.04)(68,0.02)(74,0.008)(78,0.002)(82,0.008)(90,0.02)(100,0.025)}\eR{(0,1)(1.5,0.2)(3,0.6)(5,0.4)(8,0.1)(12,0.05)(16,0.1)(20,0.05)(23,0.02)(26,0.05)(33,0.06)(40,0.05)(50,0.04)(60,0.035)(70,0.03)(80,0.025)(90,0.02)(100,0.018)}\eG{(0,2.8)(5,1.5)(10,0.8)(20,0.4)(30,0.25)(40,0.15)(50,0.1)(60,0.07)(70,0.05)(80,0.035)(90,0.025)(100,0.017)}\eB{(0,3)(1,2.5)(2,0.4)(3,1.8)(4,2)(6,0.5)(8,0.3)(10,0.5)(14,0.4)(20,0.3)(30,0.25)(40,0.2)(50,0.18)(60,0.15)(70,0.13)(80,0.12)(90,0.1)(100,0.09)}}
\pan{4}{2}{ymode=log,ymin=6.3e-5,ymax=3.2,ytick={1,0.1,0.01,0.001,0.0001},yticklabels={\tp{0},\tp{−1},\tp{−2},\tp{−3},\tp{−4}}}{\nz{cE!14}{\nzE}\eO{(0,0.1)(15,0.1)(22,0.05)(27,0.003)(31,0.04)(36,0.08)(50,0.06)(60,0.04)(66,0.02)(72,0.002)(76,0.015)(85,0.02)(100,0.012)}\eG{(0,1.3)(100,0.011)}\eR{(0,0.8)(3,0.3)(6,0.5)(10,0.1)(16.4,0.008)(19,0.08)(25,0.1)(36,0.08)(50,0.05)(62,0.035)(75,0.02)(88,0.015)(100,0.012)}\eB{(0,1.5)(2,0.6)(3.4,0.35)(6,0.9)(10,0.4)(16,0.09)(20,0.2)(25,0.18)(36,0.12)(50,0.08)(62,0.06)(70,0.045)(73,0.04)(76,0.05)(80,0.04)(84,0.05)(90,0.04)(100,0.038)}}
\pan{5}{2}{ymode=log,ymin=6.3e-5,ymax=3.3,ytick={1,0.1,0.01,0.001,0.0001},yticklabels={\tp{0},\tp{−1},\tp{−2},\tp{−3},\tp{−4}}}{\nz{cE!16}{\nzE}\eO{(0,0.08)(15,0.08)(22,0.03)(28,0.0034)(32,0.02)(38,0.04)(50,0.03)(60,0.02)(70,0.01)(76,0.0034)(82,0.01)(90,0.015)(100,0.014)}\eG{(0,1.2)(84,0.014)(100,0.013)}\eR{(0,0.5)(5,0.15)(10,0.05)(14,0.008)(18,0.06)(22,0.08)(30,0.05)(40,0.04)(50,0.03)(60,0.025)(70,0.02)(76,0.014)(85,0.016)(100,0.016)}\eB{(0,1.2)(2,0.5)(3.5,0.25)(6,0.6)(10,0.2)(15,0.15)(20,0.08)(30,0.05)(40,0.03)(50,0.02)(55,0.014)(60,0.03)(65,0.05)(70,0.025)(76,0.019)(80,0.04)(84,0.06)(90,0.045)(95,0.05)(100,0.045)}}
\pan{1}{3}{ymin=-1.67,ymax=0.56,ytick={0.5,0,-0.5,-1,-1.5},yticklabels={0.5,0.0,−0.5,−1.0,−1.5},ylabel={loss},LR}{\legLS\esix\pB{(0,-0.75)(1,-0.4)(2,0.0)(3,0.1)(4,-0.1)(5,-0.2)(6,0.05)(7.5,-0.4)(9,-0.2)(10,-0.05)(12,0.0)(15,-0.05)(20,0.05)(25,0.12)(30,0.15)(35,0.1)(40,0.15)(45,0.2)(50,0.18)(55,0.12)(60,0.1)(65,0.05)(70,0.02)(75,-0.02)(80,0.0)(85,-0.05)(90,-0.04)(95,-0.06)(100,-0.05)}}
\pan{2}{3}{ymin=-0.168,ymax=0.072,ytick={0.05,0,-0.05,-0.1,-0.15},yticklabels={0.05,0.00,−0.05,−0.10,−0.15}}{\pB{(0,-0.14)(1,-0.1)(2,-0.06)(3,-0.03)(4,-0.01)(5,0.0)(7,0.02)(10,0.035)(13,0.04)(16,0.042)(20,0.043)(25,0.04)(30,0.038)(35,0.035)(40,0.03)(45,0.03)(50,0.025)(55,0.028)(60,0.022)(65,0.028)(70,0.02)(75,0.027)(80,0.022)(85,0.026)(90,0.02)(95,0.025)(100,0.02)}}
\pan{3}{3}{ymin=-0.86,ymax=0.32,ytick={0.2,0,-0.2,-0.4,-0.6,-0.8},yticklabels={0.2,0.0,−0.2,−0.4,−0.6,−0.8}}{\pB{(0,-0.5)(1,-0.1)(2,0.2)(3,0.05)(4,0.0)(5,0.15)(6,0.2)(7,0.15)(9,0.1)(12,0.08)(15,0.05)(20,0.03)(30,0.03)(40,0.04)(50,0.04)(60,0.03)(70,0.04)(80,0.03)(90,0.04)(100,0.03)}}
\pan{4}{3}{ymin=-1.6,ymax=0.6,ytick={0.5,0,-0.5,-1,-1.5},yticklabels={0.5,0.0,−0.5,−1.0,−1.5}}{\lY{0.1}\pB{(0,-0.6)(1,0.4)(2,0.1)(3,0.0)(4,0.15)(5,0.2)(7,0.15)(10,0.08)(12,0.05)(15,0.08)(20,0.07)(30,0.05)(40,0.05)(50,0.04)(60,0.03)(70,0.03)(80,0.02)(90,0.02)(100,0.02)}}
\pan{5}{3}{ymin=-3.2,ymax=1.1,ytick={1,0,-1,-2,-3},yticklabels={1,0,−1,−2,−3},xlabel={step}}{\lY{0.2}\pB{(0,-0.3)(0.8,0.5)(2,0.0)(3,0.3)(5,0.25)(8,0.1)(12,0.0)(15,0.1)(20,0.08)(30,0.07)(50,0.06)(70,0.05)(100,0.05)}}
%%%%%%%%%%%%%%%%%%%% FIG 5
\fig{0}{536}{0.0001}\setcols{33}{201}{369.5}{537.5}{706}
\pan{1}{1}{ymin=-7.5,ymax=20.7,ytick={20,15,10,5,0,-5},yticklabels={20,15,10,5,0,−5},ylabel={policy value},UR}{\legPV\pB{(0,0)(100,0)}\pO{(0,-2.8)(45,-2.8)(45.8,1)(46.5,-4)(47.5,-2.8)(100,-2.8)}\pA{-2.9}}
\pan{2}{1}{ymin=-5.1,ymax=0.95,ytick={0,-2,-4},yticklabels={0,−2,−4}}{\pO{(0,-2.7)(68,-2.7)(69,-2.0)(69.6,-2.3)(70,-3.2)(71,-2.7)(100,-2.7)}\pA{-2.8}\pB{(0,0.0)(10,0.25)(20,0.45)(30,0.55)(37,0.58)(45,0.5)(55,0.3)(65,0.05)(75,-0.2)(85,-0.4)(95,-0.55)(100,-0.62)}}
\pan{3}{1}{ymin=-3.05,ymax=1.3,ytick={1,0,-1,-2,-3},yticklabels={1,0,−1,−2,−3}}{\pO{(0,-2.7)(100,-2.7)}\pA{-2.8}\pB{(0,0.1)(3,0.7)(6,1.0)(10,0.85)(15,0.4)(20,-0.2)(25,-0.8)(30,-1.4)(35,-1.9)(40,-2.3)(45,-2.65)(52,-2.95)(58,-2.7)(65,-2.1)(72,-1.4)(80,-0.8)(87,-0.45)(93,-0.5)(100,-0.8)}}
\pan{4}{1}{ymin=-3.8,ymax=1.36,ytick={1,0,-1,-2,-3},yticklabels={1,0,−1,−2,−3}}{\pO{(0,-2.7)(100,-2.7)}\pA{-2.75}\pB{(0,0.1)(2,0.7)(4.7,1.0)(8,0.6)(12,-0.3)(16,-1.2)(20,-2.0)(24.5,-2.75)(27,-3.2)(30.3,-3.45)(33,-3.3)(36,-2.8)(40,-2.1)(45,-1.6)(50,-1.35)(56,-1.25)(62,-1.35)(68,-1.55)(73,-1.7)(80,-1.85)(90,-1.95)(100,-2.05)}}
\pan{5}{1}{ymin=-3.9,ymax=1.36,ytick={1,0,-1,-2,-3},yticklabels={1,0,−1,−2,−3}}{\pO{(0,-2.7)(100,-2.7)}\pA{-2.75}\pB{(0,0.3)(1.5,0.8)(3,1.0)(5,0.6)(8,-0.5)(11,-2.3)(12.5,-3.0)(16,-3.8)(18,-3.3)(20,-2.8)(22.5,-2.0)(27,-2.0)(31,-2.15)(35,-2.25)(40,-2.15)(48,-2.05)(55,-2.1)(65,-2.15)(75,-2.25)(85,-2.35)(100,-2.5)}}
\pan{1}{2}{ymode=log,ymin=7.9e-4,ymax=63,ytick={10,1,0.1,0.01},yticklabels={\tp{1},\tp{0},\tp{−1},\tp{−2}},ylabel={errors},LL}{\legER\thk{cE!45}{2.2pt}{(0,2.5)(100,2.5)}\thk{cG!60}{1pt}{(0,2.35)(100,2.35)}\thk{cR!75}{1pt}{(0,1)(100,1)}\eO{(0,1)(44,1)(45,2)(46,5)(47,1.5)(48,0.3)(50,0.03)(52,0.08)(55,0.1)(60,0.12)(70,0.13)(80,0.14)(90,0.15)(100,0.15)}}
\pan{2}{2}{ymode=log,ymin=3.5e-4,ymax=9.5,ytick={1,0.1,0.01,0.001},yticklabels={\tp{0},\tp{−1},\tp{−2},\tp{−3}}}{\eO{(0,0.12)(68,0.12)(69,0.2)(70,0.4)(71,0.12)(72,0.05)(73,0.12)(100,0.12)}\eR{(0,1)(30,1.1)(60,0.95)(100,0.7)}\eG{(0,2)(30,2.1)(60,1.9)(100,1.6)}\eB{(0,3)(20,3.2)(40,3.1)(60,2.8)(80,2.4)(100,2.0)}}
\pan{3}{2}{ymode=log,ymin=3.5e-4,ymax=9.5,ytick={1,0.1,0.01,0.001},yticklabels={\tp{0},\tp{−1},\tp{−2},\tp{−3}}}{\nz{black!15}{(45,0.1)(46.6,0.0006)(48,0.1)(57,0.1)(58.9,0.0008)(60,0.1)}\eO{(0,0.12)(100,0.12)}\eG{(0,2.5)(20,2.0)(40,1.5)(60,1.4)(80,1.5)(100,1.6)}\eR{(0,1.2)(10,1.5)(25,1.0)(35,0.5)(42,0.15)(46.6,0.004)(50,0.1)(53,0.12)(56,0.1)(58.9,0.004)(63,0.15)(70,0.4)(80,0.65)(90,0.8)(100,0.85)}\eB{(0,3)(10,3.5)(25,2.5)(35,1.5)(42,0.6)(46.6,0.03)(50,0.35)(53,0.4)(56,0.3)(58.9,0.02)(63,0.5)(70,1.2)(80,1.8)(90,2.1)(100,2.2)}}
\pan{4}{2}{ymode=log,ymin=3.5e-4,ymax=9.5,ytick={1,0.1,0.01,0.001},yticklabels={\tp{0},\tp{−1},\tp{−2},\tp{−3}}}{\nz{black!15}{(22,0.1)(23.9,0.0008)(25,0.1)(37,0.1)(38.9,0.0006)(40,0.1)}\eO{(0,0.12)(100,0.12)}\eG{(0,1.6)(20,1.4)(40,1.3)(60,1.3)(80,0.9)(100,0.6)}\eR{(0,1.2)(5,1.1)(10,0.8)(16,0.3)(20,0.1)(23.9,0.01)(27,0.2)(30,0.3)(33,0.2)(36,0.06)(38.9,0.008)(42,0.12)(48,0.25)(56,0.35)(62,0.35)(70,0.3)(80,0.27)(90,0.26)(100,0.25)}\eB{(0,3)(5,2.8)(10,2)(16,0.8)(20,0.25)(23.9,0.03)(27,0.5)(30,0.8)(33,0.5)(36,0.15)(38.9,0.02)(42,0.4)(48,1.0)(56,1.5)(62,1.5)(70,1.2)(80,0.95)(90,0.85)(100,0.8)}}
\pan{5}{2}{ymode=log,ymin=2.8e-5,ymax=9.5,ytick={1,0.1,0.01,0.001,0.0001},yticklabels={\tp{0},\tp{−1},\tp{−2},\tp{−3},\tp{−4}}}{\nz{black!15}{(9,0.1)(10.9,0.0002)(12,0.1)(19,0.1)(21,0.0008)(23,0.1)}\eO{(0,0.12)(60,0.11)(100,0.09)}\eG{(0,2)(20,1.5)(40,1.1)(60,0.8)(80,0.55)(100,0.4)}\eR{(0,1.2)(5,0.8)(8,0.4)(10.9,0.05)(13,0.2)(16,0.4)(19,0.2)(21,0.03)(24,0.15)(30,0.2)(40,0.22)(50,0.2)(60,0.17)(70,0.14)(80,0.11)(90,0.09)(100,0.07)}\eB{(0,3)(5,2.5)(8,1.5)(10.9,0.1)(13,0.8)(16,1.5)(19,0.8)(21,0.06)(24,0.5)(30,0.6)(40,0.7)(50,0.7)(60,0.6)(70,0.5)(80,0.45)(90,0.4)(100,0.35)}}
\pan{1}{3}{ymin=-1.75,ymax=0.69,ytick={0.5,0,-0.5,-1,-1.5},yticklabels={0.5,0.0,−0.5,−1.0,−1.5},ylabel={loss},LR}{\legLS\esix\pB{(0,-1.3)(2,-1.0)(4,-0.8)(6,-0.5)(8,-0.4)(10,-0.3)(13,-0.15)(16,-0.1)(20,0.0)(24,-0.05)(28,0.05)(32,0.1)(35,0.05)(38,0.1)(42,0.0)(46,0.02)(50,-0.1)(54,-0.05)(58,-0.15)(62,-0.1)(66,-0.2)(70,-0.15)(74,-0.25)(78,-0.2)(82,-0.3)(86,-0.2)(90,-0.3)(94,-0.15)(97,-0.25)(100,-0.2)}}
\pan{2}{3}{ymin=-0.166,ymax=0.04,ytick={0,-0.05,-0.1,-0.15},yticklabels={0.00,−0.05,−0.10,−0.15}}{\pB{(0,-0.15)(10,-0.12)(20,-0.085)(30,-0.05)(40,-0.022)(50,-0.006)(60,0.0)(70,0.004)(80,0.007)(90,0.011)(100,0.017)}}
\pan{3}{3}{ymin=-0.83,ymax=0.35,ytick={0.2,0,-0.2,-0.4,-0.6,-0.8},yticklabels={0.2,0.0,−0.2,−0.4,−0.6,−0.8}}{\pB{(0,-0.72)(2,-0.5)(5,-0.15)(8,0.1)(11,0.2)(14,0.22)(18,0.18)(24,0.1)(30,0.05)(35,0.04)(40,-0.02)(43,-0.05)(48,-0.02)(54,0.1)(58,0.18)(61,0.22)(65,0.18)(70,0.1)(74,0.07)(80,0.07)(90,0.08)(100,0.08)}}
\pan{4}{3}{ymin=-1.56,ymax=0.61,ytick={0.5,0,-0.5,-1,-1.5},yticklabels={0.5,0.0,−0.5,−1.0,−1.5}}{\pB{(0,-1.4)(2,-0.9)(4,-0.3)(6.5,0.25)(8.7,0.47)(12,0.35)(16,0.15)(20,0.0)(25.8,-0.05)(30,0.05)(36,0.25)(40,0.22)(50,0.2)(60,0.2)(70,0.17)(80,0.14)(90,0.1)(100,0.05)}}
\pan{5}{3}{ymin=-3.11,ymax=1.22,ytick={1,0,-1,-2,-3},yticklabels={1,0,−1,−2,−3},xlabel={step}}{\pB{(0,-2.6)(1.5,-1.0)(3,0.5)(4.8,1.0)(7,0.5)(9,0.0)(10.9,-0.2)(13,0.05)(15,0.15)(20,0.15)(30,0.22)(40,0.25)(50,0.22)(60,0.2)(70,0.15)(80,0.1)(90,0.05)(100,0.0)}}
%%%%%%%%%%%%%%%%%%%% FIG 6
\fig{851}{536}{1e-05}\setcols{34.5}{203}{370.5}{538.5}{707}
\pan{1}{1}{ymin=-2.93,ymax=0.16,ytick={0,-1,-2},yticklabels={0,−1,−2},ylabel={policy value},ER=0.5}{\legPV\pB{(0,0)(100,0)}\thk{cO}{0.6pt}{(0,-2.6)(100,-2.6)}\pA{-2.75}}
\pan{2}{1}{ymin=-2.86,ymax=0.54,ytick={0,-1,-2},yticklabels={0,−1,−2}}{\thk{cO}{0.6pt}{(0,-2.6)(100,-2.6)}\pA{-2.75}\pB{(0,0)(100,0.3)}}
\pan{3}{1}{ymin=-2.95,ymax=1.3,ytick={1,0,-1,-2},yticklabels={1,0,−1,−2}}{\thk{cO}{0.6pt}{(0,-2.6)(100,-2.6)}\pA{-2.75}\pB{(0,0)(10,0.3)(20,0.52)(30,0.7)(40,0.82)(50,0.9)(60,0.96)(70,1.0)(80,1.03)(90,1.05)(100,1.06)}}
\pan{4}{1}{ymin=-2.93,ymax=1.29,ytick={1,0,-1,-2},yticklabels={1,0,−1,−2}}{\thk{cO}{0.6pt}{(0,-2.6)(100,-2.6)}\pA{-2.75}\pB{(0,0)(10,0.3)(20,0.55)(30,0.75)(40,0.9)(50,1.0)(60,1.02)(70,0.97)(80,0.88)(90,0.75)(100,0.6)}}
\pan{5}{1}{ymin=-2.93,ymax=1.29,ytick={1,0,-1,-2},yticklabels={1,0,−1,−2}}{\thk{cO}{0.6pt}{(0,-2.6)(100,-2.6)}\pA{-2.75}\pB{(0,0)(8,0.5)(15,0.8)(22,0.98)(28,1.02)(35,0.85)(42,0.55)(50,0.18)(60,-0.2)(70,-0.58)(80,-0.97)(90,-1.35)(100,-1.75)}}
\pan{1}{2}{ymode=log,ymin=0.102,ymax=5,ytick={1},yticklabels={\tp{0}},ylabel={errors},EL=0.42}{\legER\eB{(0,3.4)(100,3.4)}\eG{(0,2.4)(100,2.4)}\thk{cR!40}{2pt}{(40,1)(100,1)}\eR{(0,1)(100,1)}\thk{cO}{0.6pt}{(0,0.105)(100,0.105)}}
\pan{2}{2}{ymode=log,ymin=0.092,ymax=5.5,ytick={1,0.1},yticklabels={\tp{0},\tp{−1}}}{\eB{(0,3.2)(100,3.6)}\eG{(0,2.5)(100,2.8)}\eR{(0,1.0)(100,1.15)}\thk{cO}{0.6pt}{(0,0.11)(100,0.105)}}
\pan{3}{2}{ymode=log,ymin=0.092,ymax=5.5,ytick={1,0.1},yticklabels={\tp{0},\tp{−1}}}{\eB{(0,3.0)(50,3.6)(100,3.9)}\eG{(0,2.2)(50,2.8)(100,3.0)}\eR{(0,1.0)(50,1.2)(100,1.3)}\thk{cO}{0.6pt}{(0,0.11)(100,0.11)}}
\pan{4}{2}{ymode=log,ymin=0.092,ymax=5.5,ytick={1,0.1},yticklabels={\tp{0},\tp{−1}}}{\eB{(0,3.0)(30,3.8)(55,4.0)(80,3.8)(100,3.4)}\eG{(0,2.2)(30,2.8)(55,3.0)(80,2.8)(100,2.4)}\eR{(0,1.0)(30,1.25)(55,1.35)(80,1.3)(100,1.15)}\thk{cO}{0.6pt}{(0,0.11)(100,0.11)}}
\pan{5}{2}{ymode=log,ymin=0.092,ymax=5.5,ytick={1,0.1},yticklabels={\tp{0},\tp{−1}}}{\eB{(0,3.0)(15,3.8)(28,4.0)(45,3.3)(60,2.5)(75,1.8)(90,1.2)(100,0.95)}\eG{(0,2.2)(15,2.8)(28,3.0)(45,2.5)(60,2.0)(75,1.6)(90,1.3)(100,1.15)}\eR{(0,1.0)(15,1.25)(28,1.35)(45,1.15)(60,0.9)(75,0.65)(90,0.45)(100,0.32)}\thk{cO}{0.6pt}{(0,0.11)(100,0.11)}}
\pan{1}{3}{ymin=-2.07,ymax=0.45,ytick={0,-0.5,-1,-1.5,-2},yticklabels={0.0,−0.5,−1.0,−1.5,−2.0},ylabel={loss},UL}{\legLS\esix\pB{(0,-1.5)(3,-1.45)(6,-1.55)(9,-1.35)(12,-1.3)(15,-1.2)(18,-1.25)(21,-1.05)(24,-1.1)(27,-0.95)(30,-1.0)(33,-0.85)(36,-0.9)(39,-0.75)(42,-0.8)(45,-0.65)(48,-0.7)(51,-0.55)(54,-0.6)(57,-0.5)(60,-0.55)(63,-0.45)(66,-0.5)(70,-0.4)(74,-0.45)(78,-0.35)(82,-0.4)(86,-0.3)(90,-0.35)(94,-0.28)(97,-0.35)(100,-0.3)}}
\pan{2}{3}{ymin=-0.1508,ymax=-0.1208,ytick={-0.13,-0.14,-0.15},yticklabels={−0.13,−0.14,−0.15}}{\pB{(0,-0.15)(100,-0.1225)}}
\pan{3}{3}{ymin=-0.78,ymax=0,ytick={-0.2,-0.4,-0.6},yticklabels={−0.2,−0.4,−0.6}}{\pB{(0,-0.73)(100,-0.04)}}
\pan{4}{3}{ymin=-1.59,ymax=0.59,ytick={0.5,0,-0.5,-1,-1.5},yticklabels={0.5,0.0,−0.5,−1.0,−1.5}}{\pB{(0,-1.5)(10,-1.25)(20,-1.0)(30,-0.72)(40,-0.45)(50,-0.2)(60,0.05)(70,0.22)(80,0.35)(90,0.42)(100,0.45)}}
\pan{5}{3}{ymin=-3.14,ymax=1.22,ytick={1,0,-1,-2,-3},yticklabels={1,0,−1,−2,−3},xlabel={step}}{\pB{(0,-2.95)(10,-2.0)(20,-0.9)(30,0.0)(40,0.6)(50,0.9)(55,0.95)(60,0.93)(70,0.75)(80,0.5)(90,0.25)(100,0.02)}}
\end{tikzpicture}
\end{document}
